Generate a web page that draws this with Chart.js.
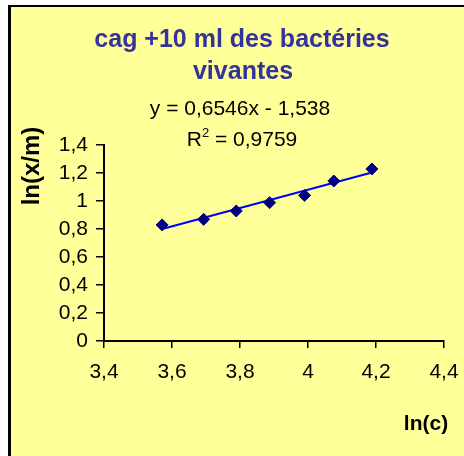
<!DOCTYPE html>
<html>
<head>
<meta charset="utf-8">
<script src="https://cdn.jsdelivr.net/npm/chart.js@4"></script>
<style>
  html, body { margin: 0; padding: 0; background: #fff; }
  #wrap { position: relative; width: 464px; height: 456px; }
</style>
</head>
<body>
<div id="wrap"><canvas id="isotherme" width="464" height="456"></canvas></div>
<script>
// Points mesurés : ln(c) et ln(x/m)
const lnC = [3.571, 3.693, 3.789, 3.887, 3.990, 4.076, 4.188];
const lnXM = [0.829, 0.869, 0.929, 0.988, 1.040, 1.143, 1.229];

// Droite de régression (affichée sur le graphique)
const pente = 0.6546;
const ordonnee = -1.538;
const r2 = '0,9759';

// Graduations des axes
const xTicks = [3.4, 3.6, 3.8, 4.0, 4.2, 4.4];
const yTicks = [0, 0.2, 0.4, 0.6, 0.8, 1.0, 1.2, 1.4];

const titre = ['cag +10 ml des bactéries', 'vivantes'];
const equation = 'y = 0,6546x - 1,538';

const points = lnC.map((x, i) => ({ x: x, y: lnXM[i] }));
const xMin = Math.min(...lnC), xMax = Math.max(...lnC);
const droite = [
  { x: xMin, y: pente * xMin + ordonnee },
  { x: xMax, y: pente * xMax + ordonnee }
];

const virgule = v => String(Number(v.toFixed(1))).replace('.', ',');

// Fond jaune avec bordure, puis les textes
const decor = {
  id: 'decor',
  beforeDraw(chart) {
    const ctx = chart.ctx;
    ctx.save();
    ctx.fillStyle = '#ffffff';
    ctx.fillRect(0, 0, 464, 456);
    ctx.fillStyle = '#000000';
    ctx.fillRect(8, 5, 456, 451);
    ctx.fillStyle = '#ffff99';
    ctx.fillRect(11, 7, 453, 449);
    ctx.restore();
  },
  afterDraw(chart) {
    const ctx = chart.ctx;
    ctx.save();
    ctx.textAlign = 'center';
    ctx.textBaseline = 'middle';

    ctx.fillStyle = '#333399';
    ctx.font = 'bold 25px "Liberation Sans", Arial, sans-serif';
    ctx.fillText(titre[0], 242, 40);
    ctx.fillText(titre[1], 243, 72);

    ctx.fillStyle = '#000000';
    ctx.font = '21px "Liberation Sans", Arial, sans-serif';
    ctx.fillText(equation, 240, 109);

    // R² avec exposant
    const a = 'R', b = '2', c = ' = ' + r2;
    const fNorm = '21px "Liberation Sans", Arial, sans-serif';
    const fSup = '13px "Liberation Sans", Arial, sans-serif';
    ctx.font = fNorm;
    const wa = ctx.measureText(a).width, wc = ctx.measureText(c).width;
    ctx.font = fSup;
    const wb = ctx.measureText(b).width;
    let x0 = 242 - (wa + wb + wc) / 2;
    ctx.textAlign = 'left';
    ctx.font = fNorm;
    ctx.fillText(a, x0, 140);
    ctx.font = fSup;
    ctx.fillText(b, x0 + wa, 133);
    ctx.font = fNorm;
    ctx.fillText(c, x0 + wa + wb, 140);

    // titres des axes
    ctx.textAlign = 'center';
    ctx.font = 'bold 21px "Liberation Sans", Arial, sans-serif';
    ctx.fillText('ln(c)', 426, 424);
    ctx.translate(32, 166);
    ctx.rotate(-Math.PI / 2);
    ctx.font = 'bold 24px "Liberation Sans", Arial, sans-serif';
    ctx.fillText('ln(x/m)', 0, 0);
    ctx.restore();
  }
};

const config = {
  type: 'scatter',
  data: {
    datasets: [
      {
        label: 'ln(x/m)',
        data: points,
        pointStyle: 'rectRot',
        pointRadius: 6,
        backgroundColor: '#000080',
        borderColor: '#000080',
        borderWidth: 1,
        order: 1
      },
      {
        label: 'Linéaire',
        type: 'line',
        data: droite,
        borderColor: '#0000ff',
        borderWidth: 2,
        pointRadius: 0,
        fill: false,
        order: 2
      }
    ]
  },
  plugins: [decor],
  options: {
    responsive: false,
    animation: false,
    layout: { padding: { top: 145, right: 20, bottom: 0, left: 0 } },
    plugins: {
      legend: { display: false },
      tooltip: { enabled: false }
    },
    scales: {
      x: {
        type: 'linear',
        min: 3.4,
        max: 4.4,
        afterFit: s => { s.height = 115; s.paddingLeft = 0; s.paddingRight = 0; },
        afterBuildTicks: s => { s.ticks = xTicks.map(v => ({ value: v })); },
        border: { display: true, color: '#000', width: 2 },
        grid: { display: true, drawOnChartArea: false, drawTicks: true, tickLength: 7, color: '#000', lineWidth: 1.5 },
        ticks: {
          color: '#000',
          padding: 12,
          maxRotation: 0,
          autoSkip: false,
          font: { family: '"Liberation Sans", Arial, sans-serif', size: 21 },
          callback: v => virgule(v)
        }
      },
      y: {
        type: 'linear',
        min: 0,
        max: 1.4,
        afterFit: s => { s.width = 104; s.paddingTop = 0; s.paddingBottom = 0; },
        afterBuildTicks: s => { s.ticks = yTicks.map(v => ({ value: v })); },
        border: { display: true, color: '#000', width: 2 },
        grid: { display: true, drawOnChartArea: false, drawTicks: true, tickLength: 8, color: '#000', lineWidth: 1.5 },
        ticks: {
          color: '#000',
          padding: 8,
          autoSkip: false,
          font: { family: '"Liberation Sans", Arial, sans-serif', size: 21 },
          callback: v => virgule(v)
        }
      }
    }
  }
};

const isotherme = new Chart(document.getElementById('isotherme'), config);
</script>
</body>
</html>
